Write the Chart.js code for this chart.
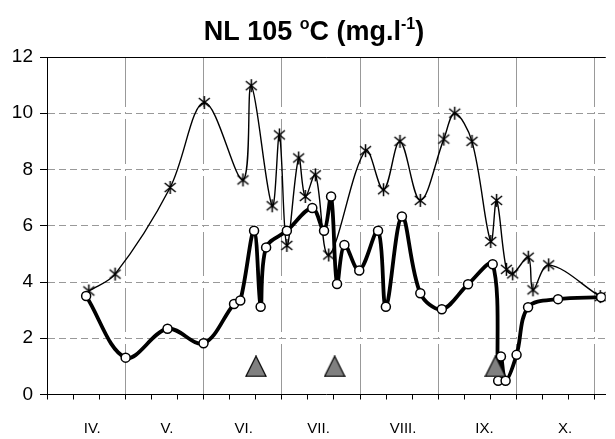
<!DOCTYPE html>
<html><head><meta charset="utf-8">
<script src="https://cdn.jsdelivr.net/npm/chart.js@4"></script>
<style>html,body{margin:0;padding:0;background:#fff;overflow:hidden}#wrap{width:615px;height:439px;position:relative}</style>
</head><body><div id="wrap"><canvas id="c" width="615" height="439"></canvas></div>
<script>
// x positions in month units: 0 = start of April, 7 = end of October
const monthLabels = ['IV.','V.','VI.','VII.','VIII.','IX.','X.'];
const monthLabelPos = [0.578,1.533,2.514,3.47,4.55,5.59,6.62];
const yTicks = [0,2,4,6,8,10,12];

const thinX = [0.535,0.87,1.574,2.01,2.504,2.61,2.877,2.97,3.065,3.216,3.30,3.43,3.60,4.07,4.30,4.51,4.77,5.07,5.21,5.43,5.67,5.745,5.87,5.95,6.15,6.21,6.41,7.07];
const thinY = [3.68,4.28,7.36,10.38,7.63,10.98,6.71,9.23,5.30,8.41,7.04,7.81,4.96,8.67,7.28,9.0,6.90,9.08,10.0,9.0,5.44,6.90,4.45,4.29,4.88,3.72,4.61,3.48];

const thickX = [0.50,1.005,1.54,2.0,2.39,2.47,2.646,2.73,2.80,3.065,3.39,3.54,3.63,3.706,3.80,3.99,4.23,4.33,4.535,4.77,5.045,5.38,5.695,5.765,5.80,5.86,6.0,6.147,6.53,7.08];
const thickY = [3.5,1.31,2.34,1.82,3.22,3.34,5.82,3.12,5.23,5.82,6.63,5.82,7.04,3.93,5.32,4.41,5.82,3.12,6.33,3.60,3.03,3.92,4.63,0.49,1.35,0.49,1.41,3.10,3.39,3.46];

const triX = [2.67,3.676,5.73];
const triY = [1,1,1];

function pts(xs, ys){ return xs.map((x,i)=>({x:x, y:ys[i]})); }

function makeStar(){
  const c=document.createElement('canvas'); c.width=15; c.height=15;
  const g=c.getContext('2d'); g.strokeStyle='#000'; g.lineWidth=1.5;
  g.beginPath();
  g.moveTo(7.5,1); g.lineTo(7.5,14);
  g.moveTo(2,3); g.lineTo(13,12);
  g.moveTo(13,3); g.lineTo(2,12);
  g.stroke(); return c;
}
function makeTri(){
  const c=document.createElement('canvas'); c.width=22; c.height=22;
  const g=c.getContext('2d');
  g.beginPath(); g.moveTo(11,0.8); g.lineTo(21.2,21.2); g.lineTo(0.8,21.2); g.closePath();
  g.fillStyle='#808080'; g.fill(); g.strokeStyle='#000'; g.lineWidth=1.2; g.stroke();
  return c;
}

const gapPlugin = {
  id:'gaps',
  beforeDatasetsDraw(chart){
    const ctx=chart.ctx, xs=chart.scales.x, ys=chart.scales.y;
    ctx.save(); ctx.fillStyle='#fff';
    for(let m=1;m<=7;m++){
      const px=Math.round(xs.getPixelForValue(m));
      for(const v of yTicks){
        if(v<=0||v>=12) continue;
        const py=Math.round(ys.getPixelForValue(v));
        ctx.fillRect(px-1, py-6, 3, 5);
        ctx.fillRect(px-1, py+1, 3, 5);
      }
    }
    ctx.restore();
  }
};

const titlePlugin = {
  id:'title2',
  afterDraw(chart){
    const ctx=chart.ctx;
    const parts=[['NL 105 ',0],['o',1],['C (mg.l',0],['-1',1],[')',0]];
    const big='bold 27px "Liberation Sans", Arial, sans-serif';
    const sm='bold 16px "Liberation Sans", Arial, sans-serif';
    ctx.save(); ctx.fillStyle='#000'; ctx.textBaseline='alphabetic'; ctx.textAlign='left';
    let total=0; const w=[];
    for(const [t,s] of parts){ ctx.font=s?sm:big; const ww=ctx.measureText(t).width; w.push(ww); total+=ww; }
    let x=314-total/2; const base=40;
    parts.forEach(([t,s],i)=>{ ctx.font=s?sm:big; ctx.fillText(t,x,s?base-11:base); x+=w[i]; });
    ctx.restore();
  }
};

const thirdTicks = Array.from({length:22},(_,k)=>k/3);
const labelSet = new Map(monthLabelPos.map((p,i)=>[p,monthLabels[i]]));
const xTickVals = thirdTicks.concat(monthLabelPos).sort((a,b)=>a-b);
function isThird(v){ return Math.abs(v*3-Math.round(v*3))<1e-9; }
function isMonth(v){ return Math.abs(v-Math.round(v))<1e-9; }

new Chart(document.getElementById('c'), {
  type:'line',
  data:{ datasets:[
    { label:'tri', data:pts(triX,triY), showLine:false, pointStyle:makeTri(), pointRadius:8, pointHoverRadius:8 },
    { label:'thick', data:pts(thickX,thickY), borderColor:'#000', borderWidth:3.8, tension:0.35,
      pointStyle:'circle', pointRadius:4.5, pointBackgroundColor:'#fff', pointBorderColor:'#000', pointBorderWidth:1.5, pointHoverRadius:4.5 },
    { label:'thin', data:pts(thinX,thinY), borderColor:'#000', borderWidth:1.4, tension:0.35,
      pointStyle:makeStar(), pointRadius:7, pointHoverRadius:7 }
  ]},
  options:{
    responsive:false, animation:false, devicePixelRatio:1,
    layout:{ padding:{ top:57, left:0, right:0, bottom:0 } },
    plugins:{ legend:{display:false}, title:{display:false}, tooltip:{enabled:false} },
    events:[],
    scales:{
      x:{ type:'linear', min:0, max:7.14,
        afterBuildTicks(s){ s.ticks = xTickVals.map(v=>({value:v})); },
        afterFit(s){ s.height = 44.5; },
        ticks:{ autoSkip:false, maxRotation:0, padding:20, color:'#000',
          font:{ family:'"Liberation Sans", Arial, sans-serif', size:15 },
          callback(v){ return labelSet.has(v) ? labelSet.get(v) : ''; } },
        grid:{ drawTicks:true, tickLength:5, lineWidth:1,
          color(c){ const v=c.tick?c.tick.value:0; return (isMonth(v) && v>0) ? '#999' : 'rgba(0,0,0,0)'; },
          tickColor(c){ const v=c.tick?c.tick.value:0; return isThird(v) ? '#000' : 'rgba(0,0,0,0)'; } },
        border:{ display:true, color:'#000', width:1 }
      },
      y:{ type:'linear', min:0, max:12,
        afterBuildTicks(s){ s.ticks = yTicks.map(v=>({value:v})); },
        afterFit(s){ s.width = 47; },
        ticks:{ padding:7, color:'#000', font:{ family:'"Liberation Sans", Arial, sans-serif', size:19 } },
        grid:{ tickLength:7, lineWidth:1,
          color(c){ const v=c.tick?c.tick.value:0; return v===12 ? '#000' : (v===0 ? 'rgba(0,0,0,0)' : '#999'); },
          tickColor:'#000' },
        border:{ display:true, color:'#000', width:1,
          dash(c){ const v=c.tick?c.tick.value:-1; return (v>0 && v<12) ? [7,4] : []; } }
      }
    }
  },
  plugins:[gapPlugin, titlePlugin]
});
</script>
</body></html>
